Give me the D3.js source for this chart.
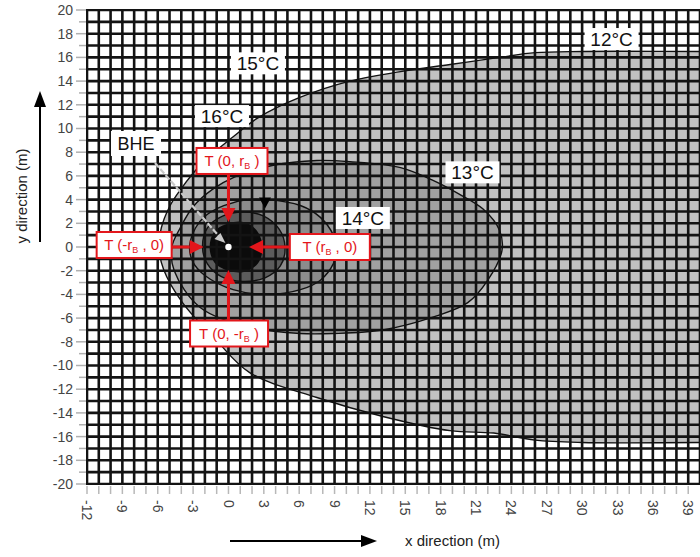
<!DOCTYPE html>
<html>
<head>
<meta charset="utf-8">
<script src="https://cdn.jsdelivr.net/npm/d3@7/dist/d3.min.js"></script>
<style>
	body { margin: 0; background: #fff; }
	svg { display: block; font-family: "Liberation Sans", Arial, sans-serif; }
</style>
</head>
<body>
<svg class="grid_chart" width="700" height="557"></svg>
<script>
// tick labels
var xTickValues = d3.range(-12, 40, 3);
var yTickValues = d3.range(-20, 21, 2);

// isotherm outlines, [x, y] in metres
var zone12 = [[-5.9,0],[-5.7,1.6],[-5.0,3.4],[-4.1,4.8],[-2.2,7.1],[0.4,9.3],[2.5,10.9],[6,12.6],[10.3,14.0],[14.6,14.8],[18.8,15.4],[23,16.0],[26,16.4],[30,16.5],[40,16.5],[50,16.5],
	[50,-16.5],[40,-16.5],[30,-16.5],[26,-16.3],[22.5,-15.7],[18.8,-15.5],[13.1,-14.3],[7.5,-12.7],[1.8,-10.6],[-1,-7.9],[-3.9,-4.7],[-5.5,-1.9]];
var zone13 = [[-4.8,0],[-4.1,1.6],[-3.0,3.4],[-1.3,4.9],[0.5,5.9],[3.8,6.9],[7.5,7.3],[10.3,7.2],[14.6,6.7],[17.4,5.6],[19.5,4.5],[21.6,3.2],[23.0,1.4],[23.2,-0.3],[22.0,-2.8],[20.3,-4.7],
	[17.4,-5.9],[13.1,-7.0],[8.9,-7.3],[6.1,-7.3],[1.8,-6.75],[-2.4,-5.1],[-4.6,-2.0]];
var zone14 = [[-3.3,0],[-2.8,1.6],[-2.0,2.6],[-0.4,3.5],[1.6,4.0],[3.3,4.0],[6.1,3.5],[7.8,2.5],[8.9,1.0],[9.2,-0.2],[8.9,-1.4],[7.8,-2.8],[6.1,-3.6],[3.3,-4.0],[0.4,-3.6],[-2.0,-2.4],[-3.0,-1.3]];
var zone15 = [[-2.2,0],[-1.8,1.6],[-0.5,2.6],[1.3,2.95],[3.0,2.6],[4.3,1.5],[4.8,0],[4.4,-1.6],[3.1,-2.6],[1.2,-2.9],[-0.6,-2.5],[-1.8,-1.4]];
var zone16 = [[-1.6,0],[-1.2,1.3],[0,2.0],[1.3,2.1],[2.4,1.4],[2.9,0],[2.5,-1.4],[1.3,-2.1],[0,-2.0],[-1.2,-1.3]];
var zoneFills = ["#c1c1c1", "#a1a1a1", "#8c8c8c", "#5c5c5c", "#0b0b0b"];

// isotherm labels
var isoLabels = ["12°C", "15°C", "16°C", "13°C", "14°C"];
var isoX = [32.5, 2.5, -0.55, 20.7, 11.4];
var isoY = [17.55, 15.5, 11.05, 6.3, 2.45];

// borehole heat exchanger and the four boundary temperatures
var bhe = [0, 0];
var redPre = ["T (0, r", "T (-r", "T (r", "T (0, -r"];
var redPost = [" )", " , 0)", " , 0)", " )"];
var redX = [0.3, -8.0, 8.6, 0.05];
var redY = [7.26, 0.17, 0.0, -7.3];
var arrowFrom = [[0, 6.1], [-4.8, 0], [5.2, 0], [0, -6.2]];
var arrowTo = [[0, 2.1], [-2.1, 0], [1.75, 0], [0, -1.95]];
var flowMark = [3.1, 3.75];

var svg = d3.select(".grid_chart");
var x = d3.scaleLinear().domain([-12, 40]).range([87, 700]);
var y = d3.scaleLinear().domain([-20, 20]).range([484, 10]);

svg.append("clipPath").attr("id", "plotclip")
	.append("rect").attr("x", 86).attr("y", 9).attr("width", 614).attr("height", 476);

var plot = svg.append("g").attr("clip-path", "url(#plotclip)");

var outline = d3.line()
	.curve(d3.curveCatmullRomClosed.alpha(0.5))
	.x((d) => { return x(d[0]); })
	.y((d) => { return y(d[1]); });

var zones = [zone12, zone13, zone14, zone15, zone16];

plot.selectAll(".zone")
	.data(zones)
	.enter().append("path")
		.attr("class", "zone")
		.attr("d", (d) => { return outline(d); })
		.attr("fill", (d, i) => { return zoneFills[i]; });

// 1 m grid
plot.selectAll(".vline")
	.data(d3.range(-12, 41))
	.enter().append("line")
		.attr("x1", (d) => { return x(d); })
		.attr("x2", (d) => { return x(d); })
		.attr("y1", y(20) - 1).attr("y2", y(-20) + 1)
		.attr("stroke", "#131313").attr("stroke-width", 2.6);

plot.selectAll(".hline")
	.data(d3.range(-20, 21))
	.enter().append("line")
		.attr("y1", (d) => { return y(d); })
		.attr("y2", (d) => { return y(d); })
		.attr("x1", x(-12) - 1).attr("x2", x(40))
		.attr("stroke", "#131313").attr("stroke-width", 2.6);

plot.selectAll(".isoline")
	.data(zones.slice(0, 4))
	.enter().append("path")
		.attr("d", (d) => { return outline(d); })
		.attr("fill", "none")
		.attr("stroke", "#111")
		.attr("stroke-width", 1.4);

// axes: gray ticks and labels
var yAxis = svg.append("g");
yAxis.selectAll("line")
	.data(d3.range(-20, 21))
	.enter().append("line")
		.attr("x1", (d) => { return d % 2 === 0 ? 76 : 79; })
		.attr("x2", 86)
		.attr("y1", (d) => { return y(d); })
		.attr("y2", (d) => { return y(d); })
		.attr("stroke", "#b0b0b0").attr("stroke-width", 1.5);
yAxis.selectAll("text")
	.data(yTickValues)
	.enter().append("text")
		.attr("x", 73)
		.attr("y", (d) => { return y(d); })
		.attr("dy", "0.35em")
		.attr("text-anchor", "end")
		.attr("fill", "#444")
		.style("font-size", "14px")
		.text((d) => { return d; });

var xAxis = svg.append("g");
xAxis.selectAll("line")
	.data(d3.range(-12, 40))
	.enter().append("line")
		.attr("x1", (d) => { return x(d); })
		.attr("x2", (d) => { return x(d); })
		.attr("y1", 486).attr("y2", 494)
		.attr("stroke", "#b8b8b8").attr("stroke-width", 1.5);
xAxis.selectAll("text")
	.data(xTickValues)
	.enter().append("text")
		.attr("transform", (d) => { return "translate(" + x(d) + ",500) rotate(90)"; })
		.attr("dy", "0.35em")
		.attr("fill", "#444")
		.style("font-size", "14px")
		.text((d) => { return d; });

// axis titles with arrows
svg.append("text")
	.attr("transform", "translate(27,196) rotate(-90)")
	.attr("text-anchor", "middle")
	.attr("fill", "#222")
	.style("font-size", "15px")
	.text("y direction (m)");
svg.append("line").attr("x1", 40).attr("x2", 40).attr("y1", 242).attr("y2", 105)
	.attr("stroke", "#000").attr("stroke-width", 2);
svg.append("path").attr("d", "M40,91 L34,107 L46,107 Z").attr("fill", "#000");

svg.append("text")
	.attr("x", 405).attr("y", 546)
	.attr("fill", "#222")
	.style("font-size", "15px")
	.text("x direction (m)");
svg.append("line").attr("x1", 230).attr("x2", 365).attr("y1", 541).attr("y2", 541)
	.attr("stroke", "#000").attr("stroke-width", 2);
svg.append("path").attr("d", "M377,541 L361,535 L361,547 Z").attr("fill", "#000");

// isotherm labels on white
var iso = svg.selectAll(".iso")
	.data(isoLabels)
	.enter().append("g")
		.attr("class", "iso")
		.attr("transform", (d, i) => { return "translate(" + x(isoX[i]) + "," + y(isoY[i]) + ")"; });
iso.append("rect")
	.attr("x", -27).attr("y", -11).attr("width", 54).attr("height", 22)
	.attr("fill", "#fff");
iso.append("text")
	.attr("text-anchor", "middle")
	.attr("dy", "0.36em")
	.attr("fill", "#111")
	.style("font-size", "19px")
	.text((d) => { return d; });

// flow direction marker
svg.append("path")
	.attr("d", "M" + (x(flowMark[0]) - 6) + "," + (y(flowMark[1]) - 5) + " L" + (x(flowMark[0]) + 6) + "," + (y(flowMark[1]) - 5) + " L" + x(flowMark[0]) + "," + (y(flowMark[1]) + 6) + " Z")
	.attr("fill", "#000");

// BHE pointer
svg.append("line")
	.attr("x1", 155).attr("y1", 163)
	.attr("x2", x(bhe[0]) - 7).attr("y2", y(bhe[1]) - 8)
	.attr("stroke", "#c9c9c9").attr("stroke-width", 2.2)
	.attr("stroke-dasharray", "6,2");
svg.append("path")
	.attr("d", "M" + (x(bhe[0]) - 3) + "," + (y(bhe[1]) - 4) + " l-11,-4 l6,-6 Z")
	.attr("fill", "#c9c9c9");
svg.append("circle")
	.attr("cx", x(bhe[0])).attr("cy", y(bhe[1])).attr("r", 3.2)
	.attr("fill", "#fff");
svg.append("rect").attr("x", 111).attr("y", 131).attr("width", 50).attr("height", 25).attr("fill", "#fff");
svg.append("text").attr("x", 136).attr("y", 150)
	.attr("text-anchor", "middle").attr("fill", "#111")
	.style("font-size", "18px").text("BHE");

// red arrows
var red = "#e3161b";
arrowFrom.forEach((f, i) => {
	var x0 = x(f[0]), y0 = y(f[1]), x1 = x(arrowTo[i][0]), y1 = y(arrowTo[i][1]);
	var a = Math.atan2(y1 - y0, x1 - x0);
	var bx = x1 - 14 * Math.cos(a), by = y1 - 14 * Math.sin(a);
	var px = 7 * Math.sin(a), py = -7 * Math.cos(a);
	svg.append("line")
		.attr("x1", x0).attr("y1", y0).attr("x2", bx).attr("y2", by)
		.attr("stroke", red).attr("stroke-width", 3);
	svg.append("path")
		.attr("d", "M" + x1 + "," + y1 + " L" + (bx + px) + "," + (by + py) + " L" + (bx - px) + "," + (by - py) + " Z")
		.attr("fill", red);
});

// red boxes
var boxes = svg.selectAll(".redbox")
	.data(redPre)
	.enter().append("g")
		.attr("class", "redbox")
		.attr("transform", (d, i) => { return "translate(" + x(redX[i]) + "," + y(redY[i]) + ")"; });
var boxW = [71, 75, 80, 78];
boxes.append("rect")
	.attr("x", (d, i) => { return -boxW[i] / 2; })
	.attr("y", -13)
	.attr("width", (d, i) => { return boxW[i]; })
	.attr("height", 26)
	.attr("fill", "#fff")
	.attr("stroke", red)
	.attr("stroke-width", 2);
var bt = boxes.append("text")
	.attr("text-anchor", "middle")
	.attr("y", 5)
	.attr("fill", red)
	.style("font-size", "15px");
bt.append("tspan").text((d) => { return d; });
bt.append("tspan").attr("dy", 3).style("font-size", "9px").text("B");
bt.append("tspan").attr("dy", -3).text((d, i) => { return redPost[i]; });
</script>
</body>
</html>
